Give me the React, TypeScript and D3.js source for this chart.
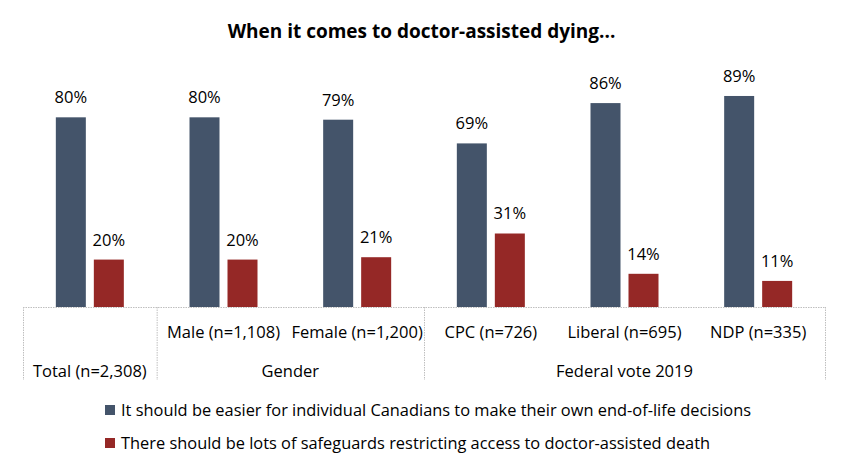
import React from "react";
import * as d3 from "d3";

const categories = ["Total (n=2,308)", "Male (n=1,108)", "Female (n=1,200)", "CPC (n=726)", "Liberal (n=695)", "NDP (n=335)"];
const easierValues = [80, 80, 79, 69, 86, 89];
const safeguardValues = [20, 20, 21, 31, 14, 11];
const seriesNames = [
  "It should be easier for individual Canadians to make their own end-of-life decisions",
  "There should be lots of safeguards restricting access to doctor-assisted death",
];
const groups = [
  { label: "Total (n=2,308)", from: 0, to: 0, isTotal: true },
  { label: "Gender", from: 1, to: 2, isTotal: false },
  { label: "Federal vote 2019", from: 3, to: 5, isTotal: false },
];
const title = "When it comes to doctor-assisted dying...";

const W = 847;
const H = 471;
const colors = ["#44546A", "#952826"];
const FONT = "'Open Sans', sans-serif";
const FS = 16.5;

export default function App() {
  const x = d3.scaleBand<string>().domain(categories).range([23, 825]).padding(0);
  const inner = d3.scaleBand<string>().domain(["s0", "s1"]).range([-34, 34]).paddingInner(2 - 68 / 38).paddingOuter(0);
  const y = d3.scaleLinear().domain([0, 100]).range([307, 69.9]);
  const axisY = y(0);
  const bottom = 380;
  const series = [easierValues, safeguardValues];

  const dividers = [0, 1, 3, 6].map((i) => (i < 6 ? x(categories[i])! : x(categories[5])! + x.bandwidth()));

  return (
    <svg width={W} height={H} style={{ position: "absolute", left: 0, top: 0, background: "#fff" }} fontFamily={FONT}>
      <text x={W / 2 - 2} y={38} textAnchor="middle" fontWeight="bold" fontSize={19} fill="#000">
        {title}
      </text>
      {series.map((vals, si) =>
        vals.map((v, ci) => {
          const cx = x(categories[ci])! + x.bandwidth() / 2;
          const bx = cx + inner(`s${si}`)!;
          return (
            <g key={`${si}-${ci}`}>
              <rect x={bx} y={y(v)} width={inner.bandwidth()} height={axisY - y(v)} fill={colors[si]} />
              <text x={bx + inner.bandwidth() / 2} y={y(v) - 14} textAnchor="middle" fontSize={FS} fill="#000">
                {`${v}%`}
              </text>
            </g>
          );
        })
      )}
      <line x1={23} x2={825} y1={axisY + 0.5} y2={axisY + 0.5} stroke="#BFBFBF" strokeDasharray="1.5,1" />
      {dividers.map((dx, i) => (
        <line key={i} x1={dx + 0.5} x2={dx + 0.5} y1={axisY} y2={bottom} stroke="#BFBFBF" strokeDasharray="1.5,1" />
      ))}
      {categories.map((c, i) =>
        i === 0 ? null : (
          <text key={c} x={x(c)! + x.bandwidth() / 2} y={338} textAnchor="middle" fontSize={FS} fill="#000">
            {c}
          </text>
        )
      )}
      {groups.map((g) => {
        const gx = (x(categories[g.from])! + x(categories[g.to])! + x.bandwidth()) / 2;
        return (
          <text key={g.label} x={gx} y={377} textAnchor="middle" fontSize={FS} fill="#000">
            {g.label}
          </text>
        );
      })}
      {seriesNames.map((n, i) => (
        <g key={n} transform={`translate(105, ${405 + i * 33})`}>
          <rect x={0} y={0} width={10} height={10} fill={colors[i]} />
          <text x={16} y={10.5} fontSize={16.4} fill="#000">
            {n}
          </text>
        </g>
      ))}
    </svg>
  );
}
